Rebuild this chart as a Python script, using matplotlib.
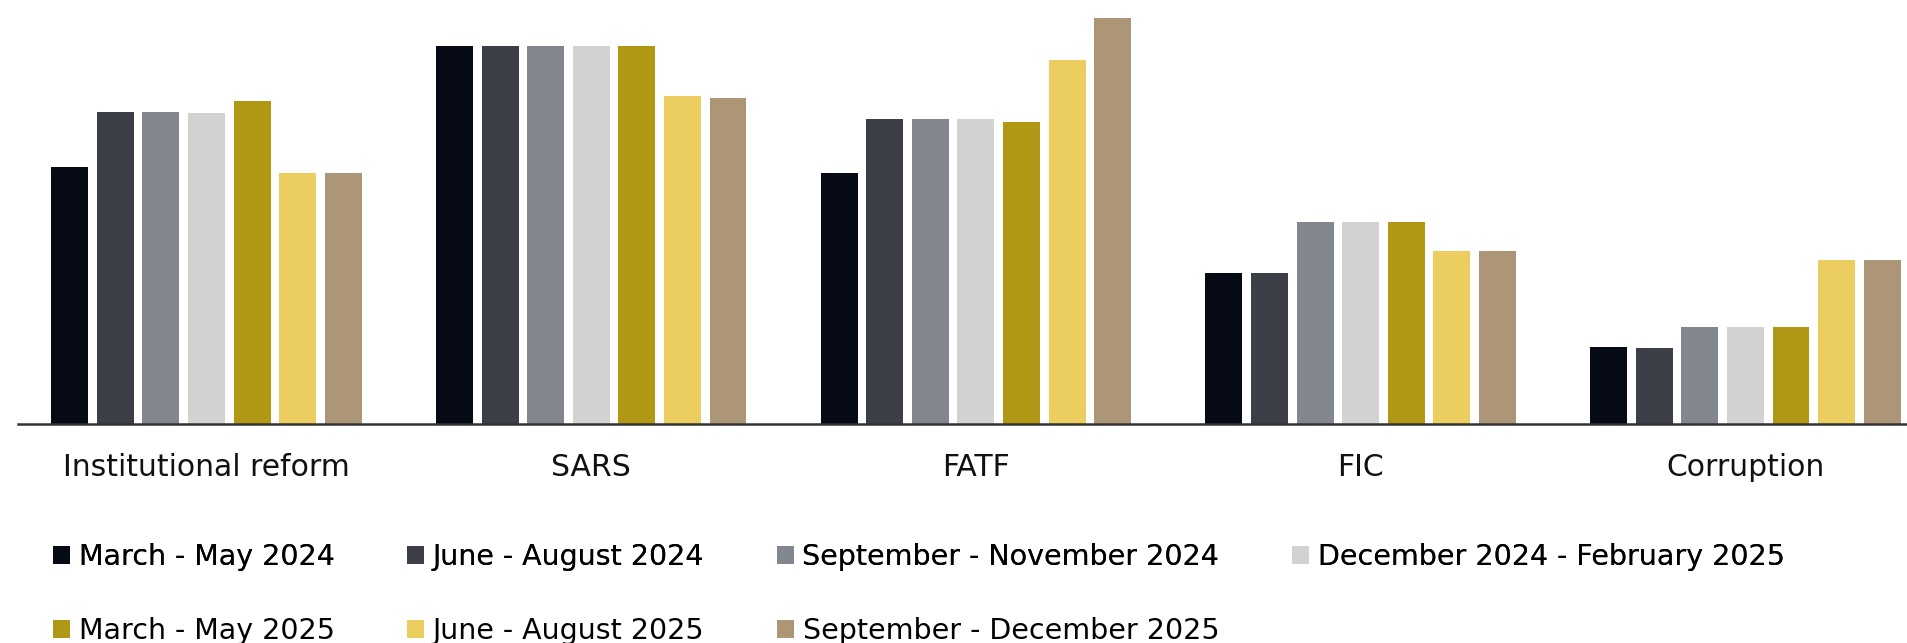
import numpy as np
import matplotlib.pyplot as plt
from matplotlib.patches import Patch

categories = ['Institutional reform', 'SARS', 'FATF', 'FIC', 'Corruption']
periods = ['March - May 2024', 'June - August 2024', 'September - November 2024',
           'December 2024 - February 2025', 'March - May 2025', 'June - August 2025',
           'September - December 2025']

mar_may_24 = [20.4, 30.0, 19.9, 12.0, 6.1]
jun_aug_24 = [24.8, 30.0, 24.2, 12.0, 6.0]
sep_nov_24 = [24.8, 30.0, 24.2, 16.0, 7.7]
dec_feb_25 = [24.7, 30.0, 24.2, 16.0, 7.7]
mar_may_25 = [25.6, 30.0, 24.0, 16.0, 7.7]
jun_aug_25 = [19.9, 26.0, 28.9, 13.7, 13.0]
sep_dec_25 = [19.9, 25.9, 32.2, 13.7, 13.0]

series = [mar_may_24, jun_aug_24, sep_nov_24, dec_feb_25, mar_may_25, jun_aug_25, sep_dec_25]
colors = ['#050a14', '#3c3f48', '#82868f', '#d2d2d2', '#b09815', '#ebcd60', '#ad9677']

fig = plt.figure(figsize=(19.07, 6.43), dpi=100)
ax = fig.add_axes([18 / 1907, 219 / 643, 1889 / 1907, 424 / 643])

x = np.arange(len(categories))
step = 0.1185
width = 0.096
for i, (vals, col) in enumerate(zip(series, colors)):
    ax.bar(x + (i - 3) * step, vals, width=width, color=col, label=periods[i])

ax.set_xlim(-0.49, 4.42)
ax.set_ylim(0, 33.65)
ax.set_xticks(x)
ax.set_xticklabels(categories, fontsize=21.5, color='#111111')
ax.tick_params(axis='x', length=0, pad=21)
ax.set_yticks([])
for s in ['top', 'left', 'right']:
    ax.spines[s].set_visible(False)
ax.spines['bottom'].set_color('#333333')
ax.spines['bottom'].set_linewidth(1.8)

# legend in two rows, filled row by row like the original
handles = [Patch(facecolor=c, edgecolor='none') for c in colors]
leg_kw = dict(loc='center left', frameon=False, fontsize=20.5, handlelength=0.6,
              handleheight=0.55, handletextpad=0.3, columnspacing=2.55,
              borderpad=0, borderaxespad=0)
leg1 = fig.legend(handles[:4], periods[:4], ncol=4, bbox_to_anchor=(53 / 1907, 1 - 557 / 643), **leg_kw)
fig.add_artist(leg1)
fig.legend(handles[4:], periods[4:], ncol=3, bbox_to_anchor=(53 / 1907, 1 - 631 / 643), **leg_kw)

fig.savefig('out.png', dpi=100)
